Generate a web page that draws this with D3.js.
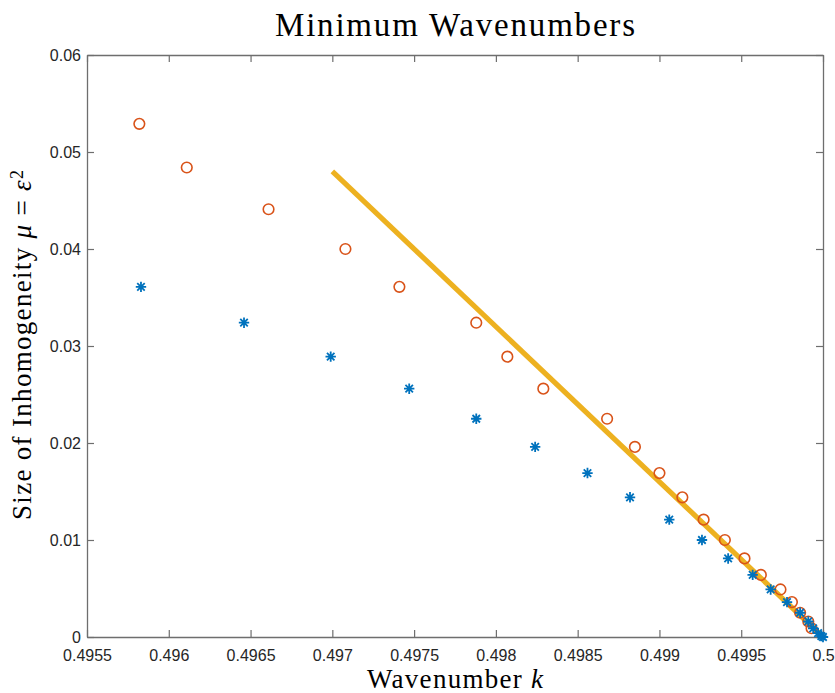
<!DOCTYPE html>
<html><head><meta charset="utf-8">
<script src="https://cdn.jsdelivr.net/npm/d3@7"></script>
<style>body{margin:0;background:#fff}svg{display:block}</style>
</head><body>
<script>
// Data
const circleK = [0.49582,0.49611,0.49661,0.49708,0.49741,0.49788,0.49807,0.49829,0.49868,0.49885,0.49900,0.49914,0.49927,0.49940,0.49952,0.49962,0.49974,0.49981,0.49986,0.49991,0.49993];
const circleMu = [0.0529,0.0484,0.0441,0.0400,0.0361,0.0324,0.0289,0.0256,0.0225,0.0196,0.0169,0.0144,0.0121,0.0100,0.0081,0.0064,0.0049,0.0036,0.0025,0.0016,0.0009];
const starK = [0.49583,0.49646,0.49699,0.49747,0.49788,0.49824,0.49856,0.49882,0.49906,0.49926,0.49942,0.49957,0.49968,0.49978,0.49986,0.49991,0.49994,0.49997,0.49999,0.5];
const starMu = [0.0361,0.0324,0.0289,0.0256,0.0225,0.0196,0.0169,0.0144,0.0121,0.0100,0.0081,0.0064,0.0049,0.0036,0.0025,0.0016,0.0009,0.0004,0.0001,0.0];
const lineK = [0.497, 0.5];
const lineMu = [0.048, 0.0];
const xTicks = [0.4955,0.496,0.4965,0.497,0.4975,0.498,0.4985,0.499,0.4995,0.5];
const xTickLabels = ["0.4955","0.496","0.4965","0.497","0.4975","0.498","0.4985","0.499","0.4995","0.5"];
const yTicks = [0,0.01,0.02,0.03,0.04,0.05,0.06];
const yTickLabels = ["0","0.01","0.02","0.03","0.04","0.05","0.06"];

const W = 835, H = 693;
const L = 87, R = 823, T = 55, B = 637;
const svg = d3.select("body").append("svg").attr("width", W).attr("height", H);
const x = d3.scaleLinear().domain([0.4955, 0.5]).range([L, R]);
const y = d3.scaleLinear().domain([0, 0.06]).range([B, T]);

const axisColor = "#6e6e6e", textColor = "#262626";
const tickFont = "'Liberation Sans', Arial, sans-serif";
const serif = "'Liberation Serif', 'DejaVu Serif', serif";

// axes with inward ticks (box on)
const gx = svg.append("g").attr("transform", `translate(0,${B})`)
  .call(d3.axisBottom(x).tickValues(xTicks).tickFormat((d,i)=>xTickLabels[i]).tickSizeInner(-7).tickSizeOuter(0).tickPadding(13));
const gxt = svg.append("g").attr("transform", `translate(0,${T})`)
  .call(d3.axisTop(x).tickValues(xTicks).tickFormat("").tickSizeInner(-7).tickSizeOuter(0));
const gy = svg.append("g").attr("transform", `translate(${L},0)`)
  .call(d3.axisLeft(y).tickValues(yTicks).tickFormat((d,i)=>yTickLabels[i]).tickSizeInner(-7).tickSizeOuter(0).tickPadding(6));
const gyr = svg.append("g").attr("transform", `translate(${R},0)`)
  .call(d3.axisRight(y).tickValues(yTicks).tickFormat("").tickSizeInner(-7).tickSizeOuter(0));
[gx,gxt,gy,gyr].forEach(g=>{
  g.selectAll(".domain").attr("stroke", axisColor).attr("stroke-width", 1.3);
  g.selectAll(".tick line").attr("stroke", axisColor).attr("stroke-width", 1.2);
  g.selectAll("text").attr("fill", textColor).style("font-family", tickFont).style("font-size", "16px");
});
gx.selectAll("text").attr("dy", "0.71em");

// yellow line
const lineData = lineK.map((k,i)=>[k, lineMu[i]]);
svg.append("path").datum(lineData)
  .attr("d", d3.line().x(d=>x(d[0])).y(d=>y(d[1])))
  .attr("fill","none").attr("stroke","#EDB120").attr("stroke-width",5.2);

// orange circles
svg.append("g").selectAll("circle").data(circleK.map((k,i)=>[k,circleMu[i]])).join("circle")
  .attr("cx", d=>x(d[0])).attr("cy", d=>y(d[1])).attr("r", 5.3)
  .attr("fill","none").attr("stroke","#D95319").attr("stroke-width",1.6);

// blue stars
const s = 5.2, s2 = s*0.72;
const starPath = `M${-s},0L${s},0M0,${-s}L0,${s}M${-s2},${-s2}L${s2},${s2}M${-s2},${s2}L${s2},${-s2}`;
svg.append("g").selectAll("path").data(starK.map((k,i)=>[k,starMu[i]])).join("path")
  .attr("transform", d=>`translate(${x(d[0])},${y(d[1])})`)
  .attr("d", starPath).attr("fill","none").attr("stroke","#0072BD").attr("stroke-width",1.8);

// title
svg.append("text").attr("x", 455).attr("y", 36).attr("text-anchor","middle")
  .style("font-family", serif).style("font-size","33px").attr("fill","#000")
  .attr("textLength", 360).attr("lengthAdjust","spacing")
  .text("Minimum Wavenumbers");

// x label
const xl = svg.append("text").attr("x", 455).attr("y", 688).attr("text-anchor","middle")
  .style("font-family", serif).style("font-size","27px").attr("fill","#000")
  .attr("textLength", 176).attr("lengthAdjust","spacing");
xl.append("tspan").text("Wavenumber ");
xl.append("tspan").style("font-style","italic").text("k");

// y label
const yl = svg.append("text").attr("transform","translate(31,345) rotate(-90)").attr("text-anchor","middle")
  .style("font-family", serif).style("font-size","27px").attr("fill","#000")
  .attr("textLength", 350).attr("lengthAdjust","spacing");
yl.append("tspan").text("Size of Inhomogeneity ");
yl.append("tspan").style("font-style","italic").text("μ");
yl.append("tspan").text(" = ");
yl.append("tspan").style("font-style","italic").text("ε");
yl.append("tspan").attr("dy","-0.45em").style("font-size","18px").text("2");
</script>
</body></html>
